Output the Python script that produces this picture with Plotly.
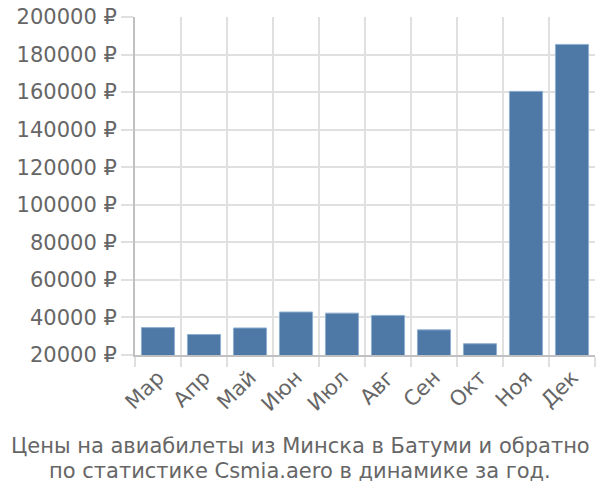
import plotly.graph_objects as go

months = ["Мар", "Апр", "Май", "Июн", "Июл", "Авг", "Сен", "Окт", "Ноя", "Дек"]
prices = [34600, 30900, 34400, 42900, 42300, 41100, 33400, 26000, 160400, 185400]
y_ticks = [20000, 40000, 60000, 80000, 100000, 120000, 140000, 160000, 180000, 200000]
title_lines = ["Цены на авиабилеты из Минска в Батуми и обратно",
               "по статистике Csmia.aero в динамике за год."]

FONT = "DejaVu Sans, sans-serif"
TXT = "#666666"
W, H = 600, 500
L, R, T, B = 135, 5, 14, 145
FS = 21

fig = go.Figure(go.Bar(
    x=months, y=prices,
    marker=dict(color="#4e79a7", line=dict(color="#8fb0d0", width=1)),
))

fig.update_layout(
    width=W, height=H,
    margin=dict(l=L, r=R, t=T, b=B),
    plot_bgcolor="white", paper_bgcolor="white",
    bargap=0.28,
    showlegend=False,
    font=dict(family=FONT, color=TXT, size=FS),
)
fig.update_xaxes(
    type="category", tickson="boundaries",
    showgrid=True, gridcolor="#e0e0e0", gridwidth=2,
    ticks="outside", ticklen=10, tickcolor="#e0e0e0", tickwidth=2,
    tickangle=-45, tickfont=dict(size=FS, color=TXT),
    showline=True, linecolor="#c0c0c0", linewidth=2,
)
fig.update_yaxes(
    range=[20000, 200000], tickvals=y_ticks,
    ticktext=[f"{v} ₽" for v in y_ticks],
    showgrid=True, gridcolor="#e0e0e0", gridwidth=2,
    ticks="outside", ticklen=12, tickcolor="#e0e0e0", tickwidth=2,
    tickfont=dict(size=FS, color=TXT),
    showline=True, linecolor="#c0c0c0", linewidth=2,
    zeroline=False,
)
pw = W - L - R
ph = H - T - B
for i, line in enumerate(title_lines):
    py = 447 + i * 25
    fig.add_annotation(
        text=line, x=(300 - L) / pw, xref="paper", xanchor="center",
        y=(H - B - py) / ph, yref="paper", yanchor="middle", showarrow=False,
        font=dict(size=FS, color=TXT, family=FONT),
    )

fig.write_html("out.html")
